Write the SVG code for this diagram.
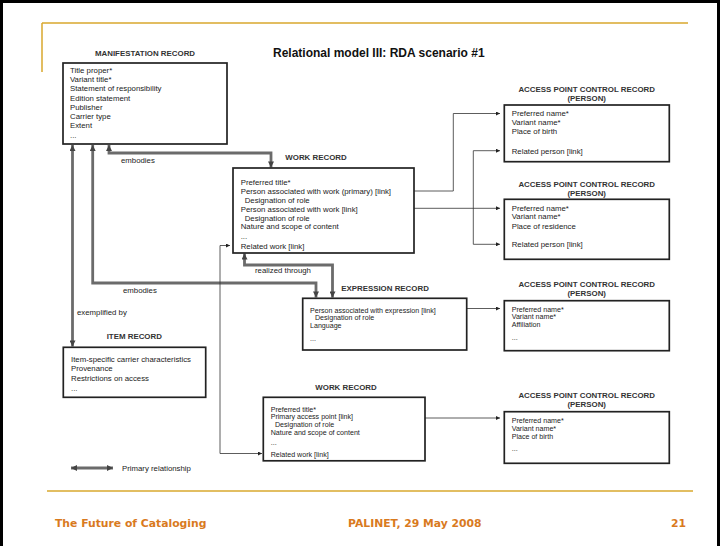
<svg xmlns="http://www.w3.org/2000/svg" width="720" height="546" viewBox="0 0 720 546">
<defs>
<style>
.t{font-family:"Liberation Sans",Arial,sans-serif;font-size:7.8px;fill:#222}
.s{font-family:"Liberation Sans",Arial,sans-serif;font-size:7.1px;fill:#222}
.h{font-family:"Liberation Sans",Arial,sans-serif;font-size:7.9px;font-weight:bold;fill:#333;text-anchor:middle}
.box{fill:#fff;stroke:#222;stroke-width:1.7}
.pr{fill:none;stroke:#6b6b6b;stroke-width:2.8;marker-start:url(#pa);marker-end:url(#pa)}
.ln{fill:none;stroke:#333;stroke-width:0.8;marker-start:url(#ta);marker-end:url(#ta)}
.ft{font-family:"DejaVu Sans",Verdana,sans-serif;font-size:10.8px;font-weight:bold;fill:#D97A1E}
</style>
<marker id="pa" viewBox="0 0 8 8" refX="8" refY="4" markerUnits="userSpaceOnUse" markerWidth="7" markerHeight="6" orient="auto-start-reverse"><path d="M0,0 L8,4 L0,8 z" fill="#444"/></marker>
<marker id="ta" viewBox="0 0 8 8" refX="8" refY="4" markerUnits="userSpaceOnUse" markerWidth="5" markerHeight="4" orient="auto-start-reverse"><path d="M0,0 L8,4 L0,8 z" fill="#222"/></marker>
</defs>
<rect x="0" y="0" width="720" height="546" fill="#fff"/>
<path d="M1.5,546 V1.5 H718.5 V546" fill="none" stroke="#000" stroke-width="3"/>
<path d="M42,23 H688 M42,23 V72" fill="none" stroke="#D9A82E" stroke-width="1.5"/>
<text x="273" y="57" font-family="Liberation Sans, Arial, sans-serif" font-size="12" font-weight="bold" fill="#111">Relational model III: RDA scenario #1</text>

<g id="connectors">
<path class="pr" d="M109,145 V153 H271 V167.5"/>
<path class="pr" d="M92.7,145 V283 H316 V297.5"/>
<path class="pr" d="M72.5,145 V346.5"/>
<path class="pr" d="M244.5,253.5 V265 H332.5 V297.5"/>
<path class="ln" d="M404,191 H453.3 V113.5 H500"/>
<path class="ln" d="M374,208.3 H500"/>
<path class="ln" d="M500,150.7 H473.3 V244.3 H500"/>
<path class="ln" d="M230,245.5 H220 V453.5 H262"/>
<path class="ln" d="M455,308.5 H500"/>
<path class="ln" d="M377,418 H500"/>
<text class="t" x="121" y="162.5">embodies</text>
<text class="t" x="123" y="293">embodies</text>
<text class="t" x="77" y="314.5">exemplified by</text>
<text class="t" x="255" y="273">realized through</text>
</g>

<g id="manifestation">
<text class="h" x="145" y="55.5">MANIFESTATION RECORD</text>
<rect class="box" x="63" y="63" width="164" height="81"/>
<text class="t" x="70" y="73">Title proper*</text>
<text class="t" x="70" y="82.2">Variant title*</text>
<text class="t" x="70" y="91.4">Statement of responsibility</text>
<text class="t" x="70" y="100.6">Edition statement</text>
<text class="t" x="70" y="109.8">Publisher</text>
<text class="t" x="70" y="119">Carrier type</text>
<text class="t" x="70" y="128.2">Extent</text>
<text class="t" x="70" y="137.5">...</text>
</g>

<g id="work1">
<text class="h" x="316" y="159.5">WORK RECORD</text>
<rect class="box" x="233" y="168" width="181" height="85"/>
<text class="t" x="240.7" y="184.5">Preferred  title*</text>
<text class="t" x="240.7" y="193.8">Person associated with work (primary) [link]</text>
<text class="t" x="244.7" y="202.8">Designation of role</text>
<text class="t" x="240.7" y="212">Person associated with work  [link]</text>
<text class="t" x="244.7" y="220.5">Designation of role</text>
<text class="t" x="240.7" y="228.8">Nature and scope of content</text>
<text class="t" x="240.7" y="238.5">...</text>
<text class="t" x="240.7" y="248.8">Related work [link]</text>
</g>

<g id="apc1">
<text class="h" x="586.7" y="92.2">ACCESS POINT CONTROL RECORD</text>
<text class="h" x="586.7" y="100.7">(PERSON)</text>
<rect class="box" x="504.3" y="105" width="165" height="56.7"/>
<text class="t" x="511.7" y="116.2">Preferred name*</text>
<text class="t" x="511.7" y="124.8">Variant name*</text>
<text class="t" x="511.7" y="134">Place of birth</text>
<text class="t" x="511.7" y="153.5">Related person [link]</text>
</g>

<g id="apc2">
<text class="h" x="586.7" y="187.1">ACCESS POINT CONTROL RECORD</text>
<text class="h" x="586.7" y="195.5">(PERSON)</text>
<rect class="box" x="504.3" y="199.3" width="165" height="60"/>
<text class="t" x="511.7" y="210.5">Preferred name*</text>
<text class="t" x="511.7" y="219">Variant name*</text>
<text class="t" x="511.7" y="229">Place of residence</text>
<text class="t" x="511.7" y="247">Related person [link]</text>
</g>

<g id="expression">
<text class="h" x="385" y="291">EXPRESSION RECORD</text>
<rect class="box" x="302.7" y="298.3" width="164" height="51.7"/>
<text class="s" x="310" y="312.5">Person associated with expression [link]</text>
<text class="s" x="315" y="320.2">Designation of role</text>
<text class="s" x="310" y="327.9">Language</text>
<text class="s" x="310" y="340.5">...</text>
</g>

<g id="apc3">
<text class="h" x="586.7" y="287.2">ACCESS POINT CONTROL RECORD</text>
<text class="h" x="586.7" y="295.7">(PERSON)</text>
<rect class="box" x="504.3" y="300.7" width="165" height="50"/>
<text class="s" x="511.7" y="311.5">Preferred name*</text>
<text class="s" x="511.7" y="319.2">Variant name*</text>
<text class="s" x="511.7" y="326.9">Affiliation</text>
<text class="s" x="511.7" y="340">...</text>
</g>

<g id="item">
<text class="h" x="134.3" y="338.8">ITEM RECORD</text>
<rect class="box" x="63.3" y="347.3" width="142.4" height="50"/>
<text class="t" x="71" y="362">Item-specific carrier characteristics</text>
<text class="t" x="71" y="371">Provenance</text>
<text class="t" x="71" y="381">Restrictions on access</text>
<text class="t" x="71" y="391">...</text>
</g>

<g id="work2">
<text class="h" x="346" y="389.5">WORK RECORD</text>
<rect class="box" x="263.3" y="397.3" width="161.7" height="63.5"/>
<text class="s" x="270.7" y="411.5">Preferred title*</text>
<text class="s" x="270.7" y="419.2">Primary access point [link]</text>
<text class="s" x="275" y="426.9">Designation of role</text>
<text class="s" x="270.7" y="434.6">Nature and scope of content</text>
<text class="s" x="270.7" y="445">...</text>
<text class="s" x="270.7" y="456.5">Related work [link]</text>
</g>

<g id="apc4">
<text class="h" x="586.7" y="397.8">ACCESS POINT CONTROL RECORD</text>
<text class="h" x="586.7" y="406.5">(PERSON)</text>
<rect class="box" x="504.3" y="411.7" width="165" height="51.6"/>
<text class="s" x="511.7" y="423">Preferred name*</text>
<text class="s" x="511.7" y="430.7">Variant name*</text>
<text class="s" x="511.7" y="439">Place of birth</text>
<text class="s" x="511.7" y="451">...</text>
</g>

<g id="legend">
<path class="pr" d="M71,468 H113"/>
<text class="t" x="122" y="471">Primary relationship</text>
</g>

<g id="footer">
<path d="M47,491 H693" stroke="#D9A82E" stroke-width="1.5"/>
<text class="ft" x="55" y="527">The Future of Cataloging</text>
<text class="ft" x="348" y="527">PALINET, 29 May 2008</text>
<text class="ft" x="671" y="527">21</text>
</g>
</svg>
